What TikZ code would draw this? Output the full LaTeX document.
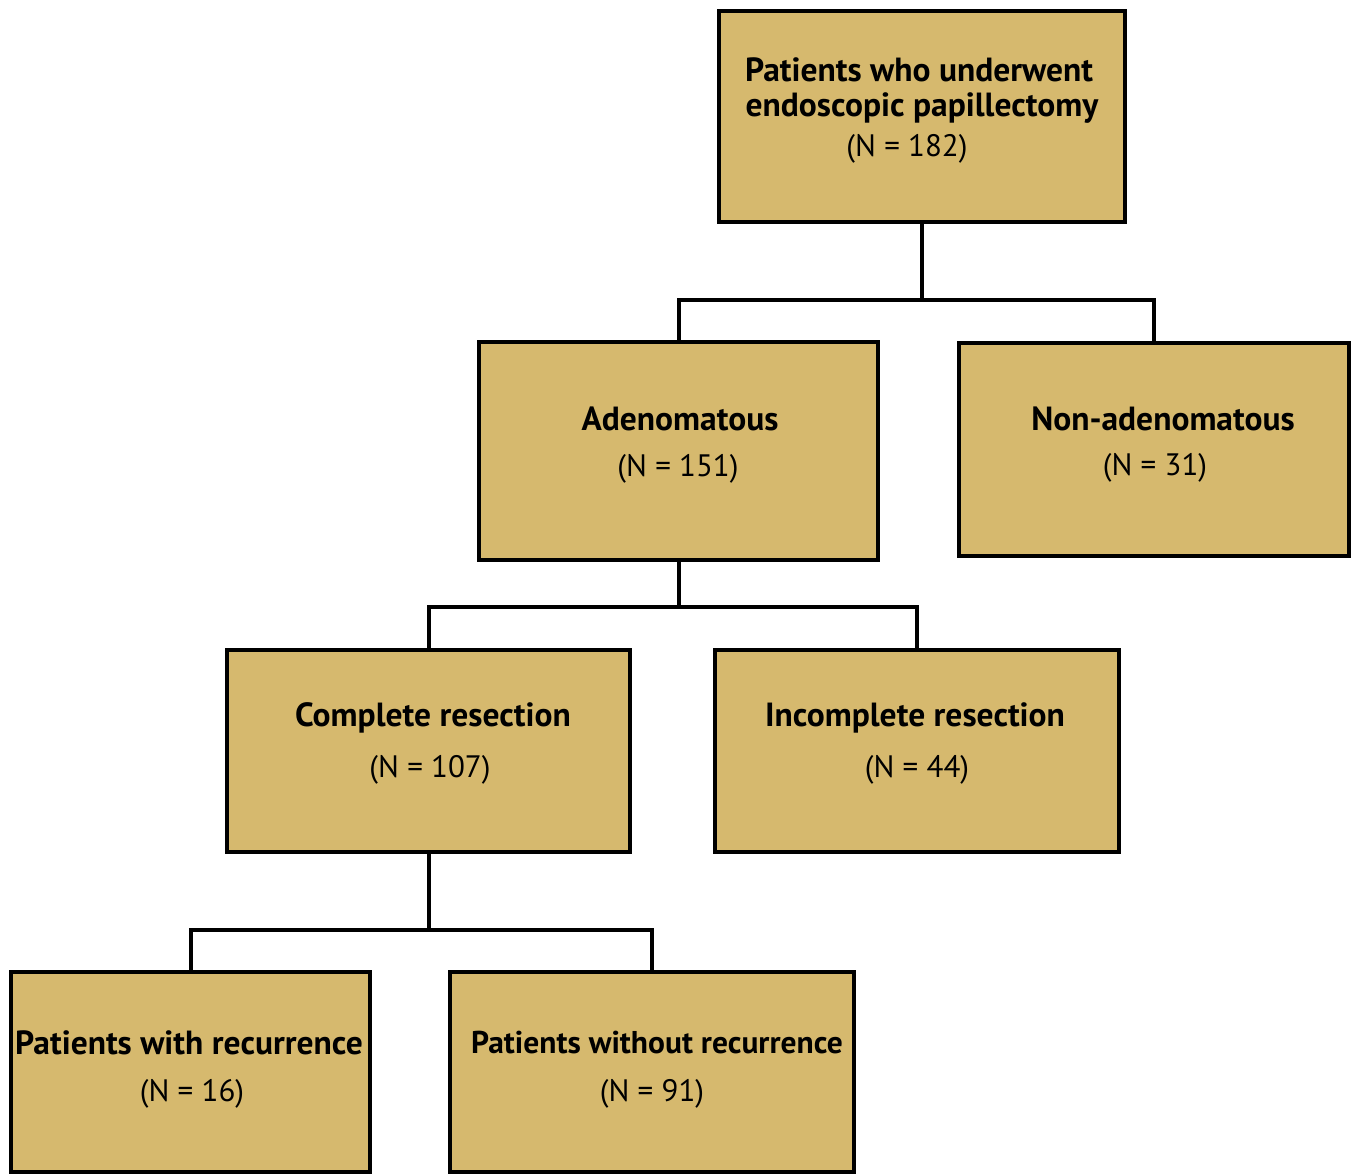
\documentclass[tikz,border=0pt]{standalone}
\usepackage{fontspec}
\setmainfont{PT Sans}
\definecolor{boxfill}{HTML}{D6B96E}
\tikzset{
  box/.style={draw=black, fill=boxfill, line width=4pt, inner sep=0pt},
  title/.style={font=\bfseries\fontsize{33.5}{38}\selectfont, inner sep=0pt, anchor=center},
  count/.style={font=\fontsize{31}{36}\selectfont, inner sep=0pt, anchor=center},
  link/.style={line width=4pt, line cap=rect}
}
\begin{document}
\begin{tikzpicture}[x=1pt,y=-1pt]
\useasboundingbox (0,0) rectangle (1357,1174);
% boxes
\node[box, minimum width=406pt, minimum height=211pt] (top) at (922,116.5) {};
\node[box, minimum width=399pt, minimum height=218pt] (adeno) at (678.5,451) {};
\node[box, minimum width=390pt, minimum height=213pt] (nonad) at (1154,449.5) {};
\node[box, minimum width=403pt, minimum height=202pt] (compl) at (428.5,751) {};
\node[box, minimum width=404pt, minimum height=202pt] (incompl) at (917,751) {};
\node[box, minimum width=359pt, minimum height=200pt] (rec) at (190.5,1072) {};
\node[box, minimum width=404pt, minimum height=200pt] (norec) at (652,1072) {};
% texts
\node[title] (ttop1) at (919,70) {Patients who underwent};
\node[title] (ttop2) at (922,108) {endoscopic papillectomy};
\node[count] (ntop) at (907,149) {(N = 182)};
\node[title] (tadeno) at (680,419) {Adenomatous};
\node[count] (nadeno) at (678,469) {(N = 151)};
\node[title] (tnonad) at (1163,419) {Non-adenomatous};
\node[count] (nnonad) at (1155,468) {(N = 31)};
\node[title] (tcompl) at (433,718) {Complete resection};
\node[count] (ncompl) at (430,770) {(N = 107)};
\node[title] (tincompl) at (915,718) {Incomplete resection};
\node[count] (nincompl) at (917,770) {(N = 44)};
\node[title] (trec) at (189,1043) {Patients with recurrence};
\node[count] (nrec) at (192,1094) {(N = 16)};
\node[title, font=\bfseries\fontsize{31.5}{36}\selectfont] (tnorec) at (657,1043) {Patients without recurrence};
\node[count] (nnorec) at (652,1094) {(N = 91)};
% junctions
\coordinate (j1) at (922,300);
\coordinate (j2) at (678.5,607);
\coordinate (j3) at (428.5,930);
% connectors
\draw[link] (top.south) -- (j1);
\draw[link] (adeno.north) |- (j1) -| (nonad.north);
\draw[link] (adeno.south) -- (j2);
\draw[link] (compl.north) |- (j2) -| (incompl.north);
\draw[link] (compl.south) -- (j3);
\draw[link] (rec.north) |- (j3) -| (norec.north);
\end{tikzpicture}
\end{document}
